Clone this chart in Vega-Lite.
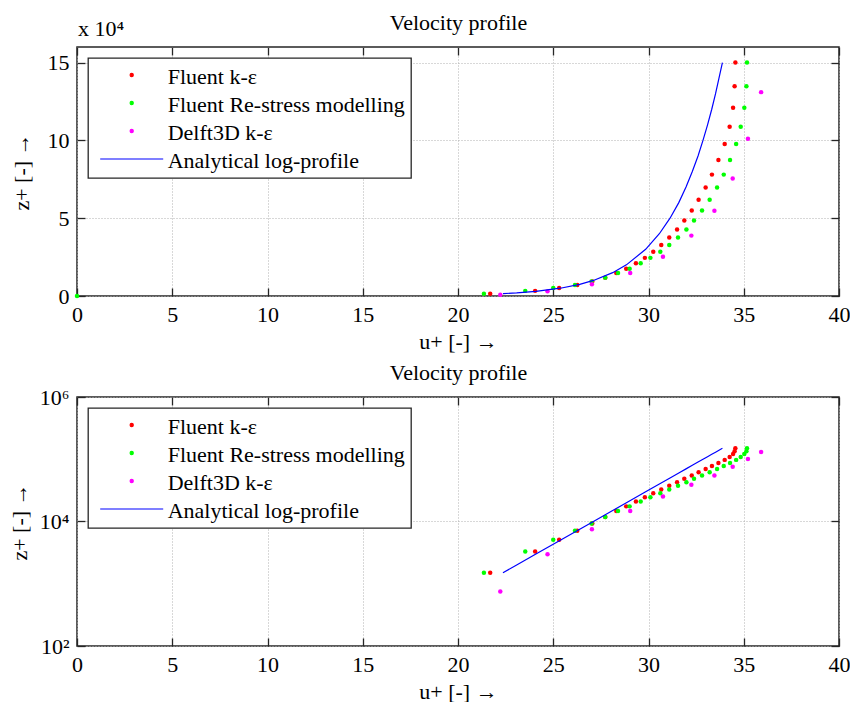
{
  "$schema": "https://vega.github.io/schema/vega-lite/v6.json",
  "background": "white",
  "padding": {"left": 7, "top": 10, "right": 5, "bottom": 0},
  "spacing": 7,
  "datasets": {
    "pts": [
      {"series": "Fluent k-ε", "u": 21.69, "z": 1500},
      {"series": "Fluent k-ε", "u": 24.05, "z": 3300},
      {"series": "Fluent k-ε", "u": 25.31, "z": 5100},
      {"series": "Fluent k-ε", "u": 26.26, "z": 7100},
      {"series": "Fluent k-ε", "u": 27.05, "z": 9300},
      {"series": "Fluent k-ε", "u": 27.73, "z": 11800},
      {"series": "Fluent k-ε", "u": 28.31, "z": 14800},
      {"series": "Fluent k-ε", "u": 28.83, "z": 17500},
      {"series": "Fluent k-ε", "u": 29.34, "z": 21000},
      {"series": "Fluent k-ε", "u": 29.81, "z": 24500},
      {"series": "Fluent k-ε", "u": 30.25, "z": 28400},
      {"series": "Fluent k-ε", "u": 30.67, "z": 32700},
      {"series": "Fluent k-ε", "u": 31.09, "z": 37600},
      {"series": "Fluent k-ε", "u": 31.5, "z": 42700},
      {"series": "Fluent k-ε", "u": 31.88, "z": 48500},
      {"series": "Fluent k-ε", "u": 32.27, "z": 54900},
      {"series": "Fluent k-ε", "u": 32.63, "z": 61800},
      {"series": "Fluent k-ε", "u": 33.0, "z": 69700},
      {"series": "Fluent k-ε", "u": 33.33, "z": 78000},
      {"series": "Fluent k-ε", "u": 33.67, "z": 87400},
      {"series": "Fluent k-ε", "u": 34.0, "z": 97700},
      {"series": "Fluent k-ε", "u": 34.26, "z": 108800},
      {"series": "Fluent k-ε", "u": 34.44, "z": 121000},
      {"series": "Fluent k-ε", "u": 34.52, "z": 134800},
      {"series": "Fluent k-ε", "u": 34.56, "z": 150000},
      {"series": "Fluent Re-stress modelling", "u": 0, "z": 0},
      {"series": "Fluent Re-stress modelling", "u": 21.36, "z": 1500},
      {"series": "Fluent Re-stress modelling", "u": 23.53, "z": 3300},
      {"series": "Fluent Re-stress modelling", "u": 25.0, "z": 5100},
      {"series": "Fluent Re-stress modelling", "u": 26.14, "z": 7100},
      {"series": "Fluent Re-stress modelling", "u": 27.01, "z": 9300},
      {"series": "Fluent Re-stress modelling", "u": 27.73, "z": 11800},
      {"series": "Fluent Re-stress modelling", "u": 28.4, "z": 14800},
      {"series": "Fluent Re-stress modelling", "u": 29.01, "z": 17500},
      {"series": "Fluent Re-stress modelling", "u": 29.59, "z": 21000},
      {"series": "Fluent Re-stress modelling", "u": 30.1, "z": 24500},
      {"series": "Fluent Re-stress modelling", "u": 30.62, "z": 28400},
      {"series": "Fluent Re-stress modelling", "u": 31.09, "z": 32700},
      {"series": "Fluent Re-stress modelling", "u": 31.55, "z": 37600},
      {"series": "Fluent Re-stress modelling", "u": 31.99, "z": 42700},
      {"series": "Fluent Re-stress modelling", "u": 32.39, "z": 48500},
      {"series": "Fluent Re-stress modelling", "u": 32.81, "z": 54900},
      {"series": "Fluent Re-stress modelling", "u": 33.21, "z": 61800},
      {"series": "Fluent Re-stress modelling", "u": 33.6, "z": 69700},
      {"series": "Fluent Re-stress modelling", "u": 33.95, "z": 78000},
      {"series": "Fluent Re-stress modelling", "u": 34.28, "z": 87400},
      {"series": "Fluent Re-stress modelling", "u": 34.6, "z": 97700},
      {"series": "Fluent Re-stress modelling", "u": 34.84, "z": 108800},
      {"series": "Fluent Re-stress modelling", "u": 35.03, "z": 121000},
      {"series": "Fluent Re-stress modelling", "u": 35.14, "z": 134800},
      {"series": "Fluent Re-stress modelling", "u": 35.17, "z": 150000},
      {"series": "Delft3D k-ε", "u": 22.22, "z": 750},
      {"series": "Delft3D k-ε", "u": 24.7, "z": 2980},
      {"series": "Delft3D k-ε", "u": 27.03, "z": 7520},
      {"series": "Delft3D k-ε", "u": 29.04, "z": 14800},
      {"series": "Delft3D k-ε", "u": 30.76, "z": 25200},
      {"series": "Delft3D k-ε", "u": 32.25, "z": 38800},
      {"series": "Delft3D k-ε", "u": 33.46, "z": 54800},
      {"series": "Delft3D k-ε", "u": 34.42, "z": 75500},
      {"series": "Delft3D k-ε", "u": 35.22, "z": 101000},
      {"series": "Delft3D k-ε", "u": 35.91, "z": 131000}
    ],
    "line": [
      {"series": "Analytical log-profile", "u": 22.36, "z": 1500},
      {"series": "Analytical log-profile", "u": 23.08, "z": 2000},
      {"series": "Analytical log-profile", "u": 24.09, "z": 3000},
      {"series": "Analytical log-profile", "u": 25.37, "z": 5000},
      {"series": "Analytical log-profile", "u": 26.39, "z": 7500},
      {"series": "Analytical log-profile", "u": 27.11, "z": 10000},
      {"series": "Analytical log-profile", "u": 28.12, "z": 15000},
      {"series": "Analytical log-profile", "u": 28.84, "z": 20000},
      {"series": "Analytical log-profile", "u": 29.85, "z": 30000},
      {"series": "Analytical log-profile", "u": 30.57, "z": 40000},
      {"series": "Analytical log-profile", "u": 31.13, "z": 50000},
      {"series": "Analytical log-profile", "u": 31.59, "z": 60000},
      {"series": "Analytical log-profile", "u": 31.97, "z": 70000},
      {"series": "Analytical log-profile", "u": 32.3, "z": 80000},
      {"series": "Analytical log-profile", "u": 32.6, "z": 90000},
      {"series": "Analytical log-profile", "u": 32.86, "z": 100000},
      {"series": "Analytical log-profile", "u": 33.1, "z": 110000},
      {"series": "Analytical log-profile", "u": 33.32, "z": 120000},
      {"series": "Analytical log-profile", "u": 33.52, "z": 130000},
      {"series": "Analytical log-profile", "u": 33.7, "z": 140000},
      {"series": "Analytical log-profile", "u": 33.88, "z": 150000}
    ]
  },
  "config": {
    "view": {"stroke": "#262626", "strokeWidth": 1.5},
    "font": "Liberation Serif",
    "axis": {
      "labelFont": "Liberation Serif", "labelFontSize": 22, "labelColor": "#000000", "labelFlush": false,
      "titleFont": "Liberation Serif", "titleFontSize": 22, "titleFontWeight": "normal", "titleColor": "#000000",
      "tickColor": "#262626", "tickWidth": 1.3, "tickSize": -8,
      "domain": false,
      "gridColor": "#b0b0b0", "gridDash": [1, 2], "gridWidth": 1
    },
    "legend": {
      "title": null,
      "orient": "top-left", "offset": 11, "padding": 6,
      "strokeColor": "#262626", "strokeWidth": 1.3, "fillColor": "white",
      "labelFont": "Liberation Serif", "labelFontSize": 22, "labelColor": "#000000", "labelLimit": 500,
      "rowPadding": 4, "symbolSize": 100, "symbolOffset": 26.7, "labelOffset": 25,
      "symbolStrokeWidth": 1.2
    }
  },
  "resolve": {"scale": {"color": "independent"}},
  "vconcat": [
    {
      "width": 762, "height": 249,
      "resolve": {"axis": {"x": "independent", "y": "independent"}},
      "layer": [
        {
          "data": {"name": "pts"},
          "mark": {"type": "circle", "size": 20, "opacity": 1},
          "encoding": {
            "x": {"field": "u", "type": "quantitative", "scale": {"domain": [0, 40], "nice": false},
              "axis": {"orient": "bottom", "values": [0, 5, 10, 15, 20, 25, 30, 35, 40], "grid": true, "labelPadding": 16, "labelBaseline": "top",
                "title": "u+ [-] →", "titleX": 381, "titleY": 52, "titleBaseline": "alphabetic", "titleAlign": "center"}},
            "y": {"field": "z", "type": "quantitative", "scale": {"domain": [0, 160000], "nice": false},
              "axis": {"orient": "left", "values": [0, 50000, 100000, 150000], "labelExpr": "'' + (datum.value / 10000)", "grid": true, "labelPadding": 16,
                "title": "z+ [-] →", "titleX": -49, "titleY": 124.5, "titleAngle": 270, "titleBaseline": "alphabetic", "titleAlign": "center"}},
            "color": {"field": "series", "type": "nominal",
              "scale": {"domain": ["Fluent k-ε", "Fluent Re-stress modelling", "Delft3D k-ε", "Analytical log-profile"], "range": ["#ff0000", "#00ff00", "#ff00ff", "#0000ff"]},
              "legend": {
                "encode": {
                  "symbols": {"update": {
                    "shape": {"signal": "datum.value === 'Analytical log-profile' ? 'M-6.3,0H6.3' : 'M-0.32,0A0.32,0.32,0,1,0,0.32,0A0.32,0.32,0,1,0,-0.32,0Z'"},
                    "fill": {"signal": "datum.value === 'Fluent k-ε' ? '#ff0000' : datum.value === 'Fluent Re-stress modelling' ? '#00ff00' : datum.value === 'Delft3D k-ε' ? '#ff00ff' : 'transparent'"},
                    "stroke": {"signal": "datum.value === 'Analytical log-profile' ? '#0000ff' : 'transparent'"},
                    "strokeWidth": {"value": 1.2},
                    "opacity": {"value": 1}
                  }},
                  "labels": {"update": {"dy": {"value": 1.5}}}
                }
              }}
          }
        },
        {
          "data": {"name": "line"},
          "mark": {"type": "line", "strokeWidth": 1.2},
          "encoding": {
            "x": {"field": "u", "type": "quantitative",
              "axis": {"orient": "top", "values": [0, 5, 10, 15, 20, 25, 30, 35, 40], "grid": false, "labels": false,
                "title": "Velocity profile", "titleX": 381, "titleY": -18, "titleBaseline": "alphabetic", "titleAlign": "center"}},
            "y": {"field": "z", "type": "quantitative",
              "axis": {"orient": "right", "values": [0, 50000, 100000, 150000], "grid": false, "labels": false,
                "title": "x 10⁴", "titleAngle": 0, "titleX": -761.5, "titleY": -11.3, "titleAlign": "left", "titleBaseline": "alphabetic"}},
            "color": {"field": "series", "type": "nominal",
              "legend": {
                "encode": {
                  "symbols": {"update": {
                    "shape": {"signal": "datum.value === 'Analytical log-profile' ? 'M-6.3,0H6.3' : 'M-0.32,0A0.32,0.32,0,1,0,0.32,0A0.32,0.32,0,1,0,-0.32,0Z'"},
                    "fill": {"signal": "datum.value === 'Fluent k-ε' ? '#ff0000' : datum.value === 'Fluent Re-stress modelling' ? '#00ff00' : datum.value === 'Delft3D k-ε' ? '#ff00ff' : 'transparent'"},
                    "stroke": {"signal": "datum.value === 'Analytical log-profile' ? '#0000ff' : 'transparent'"},
                    "strokeWidth": {"value": 1.2},
                    "opacity": {"value": 1}
                  }},
                  "labels": {"update": {"dy": {"value": 1.5}}}
                }
              }}
          }
        }
      ]
    },
    {
      "width": 762, "height": 249,
      "resolve": {"axis": {"x": "independent", "y": "independent"}},
      "layer": [
        {
          "data": {"name": "pts"},
          "transform": [{"filter": "datum.z > 0"}],
          "mark": {"type": "circle", "size": 20, "opacity": 1},
          "encoding": {
            "x": {"field": "u", "type": "quantitative", "scale": {"domain": [0, 40], "nice": false},
              "axis": {"orient": "bottom", "values": [0, 5, 10, 15, 20, 25, 30, 35, 40], "grid": true, "labelPadding": 16, "labelBaseline": "top",
                "title": "u+ [-] →", "titleX": 381, "titleY": 52, "titleBaseline": "alphabetic", "titleAlign": "center"}},
            "y": {"field": "z", "type": "quantitative", "scale": {"type": "log", "domain": [100, 1000000], "nice": false},
              "axis": {"orient": "left", "values": [100, 10000, 1000000], "labelExpr": "datum.value == 100 ? '10²' : datum.value == 10000 ? '10⁴' : '10⁶'", "grid": true, "labelPadding": 16,
                "title": "z+ [-] →", "titleX": -51, "titleY": 124.5, "titleAngle": 270, "titleBaseline": "alphabetic", "titleAlign": "center"}},
            "color": {"field": "series", "type": "nominal",
              "scale": {"domain": ["Fluent k-ε", "Fluent Re-stress modelling", "Delft3D k-ε", "Analytical log-profile"], "range": ["#ff0000", "#00ff00", "#ff00ff", "#0000ff"]},
              "legend": {
                "encode": {
                  "symbols": {"update": {
                    "shape": {"signal": "datum.value === 'Analytical log-profile' ? 'M-6.3,0H6.3' : 'M-0.32,0A0.32,0.32,0,1,0,0.32,0A0.32,0.32,0,1,0,-0.32,0Z'"},
                    "fill": {"signal": "datum.value === 'Fluent k-ε' ? '#ff0000' : datum.value === 'Fluent Re-stress modelling' ? '#00ff00' : datum.value === 'Delft3D k-ε' ? '#ff00ff' : 'transparent'"},
                    "stroke": {"signal": "datum.value === 'Analytical log-profile' ? '#0000ff' : 'transparent'"},
                    "strokeWidth": {"value": 1.2},
                    "opacity": {"value": 1}
                  }},
                  "labels": {"update": {"dy": {"value": 1.5}}}
                }
              }}
          }
        },
        {
          "data": {"name": "line"},
          "mark": {"type": "line", "strokeWidth": 1.2},
          "encoding": {
            "x": {"field": "u", "type": "quantitative",
              "axis": {"orient": "top", "values": [0, 5, 10, 15, 20, 25, 30, 35, 40], "grid": false, "labels": false,
                "title": "Velocity profile", "titleX": 381, "titleY": -18, "titleBaseline": "alphabetic", "titleAlign": "center"}},
            "y": {"field": "z", "type": "quantitative",
              "axis": {"orient": "right", "values": [100, 10000, 1000000], "grid": false, "labels": false, "title": null}},
            "color": {"field": "series", "type": "nominal",
              "legend": {
                "encode": {
                  "symbols": {"update": {
                    "shape": {"signal": "datum.value === 'Analytical log-profile' ? 'M-6.3,0H6.3' : 'M-0.32,0A0.32,0.32,0,1,0,0.32,0A0.32,0.32,0,1,0,-0.32,0Z'"},
                    "fill": {"signal": "datum.value === 'Fluent k-ε' ? '#ff0000' : datum.value === 'Fluent Re-stress modelling' ? '#00ff00' : datum.value === 'Delft3D k-ε' ? '#ff00ff' : 'transparent'"},
                    "stroke": {"signal": "datum.value === 'Analytical log-profile' ? '#0000ff' : 'transparent'"},
                    "strokeWidth": {"value": 1.2},
                    "opacity": {"value": 1}
                  }},
                  "labels": {"update": {"dy": {"value": 1.5}}}
                }
              }}
          }
        }
      ]
    }
  ]
}
